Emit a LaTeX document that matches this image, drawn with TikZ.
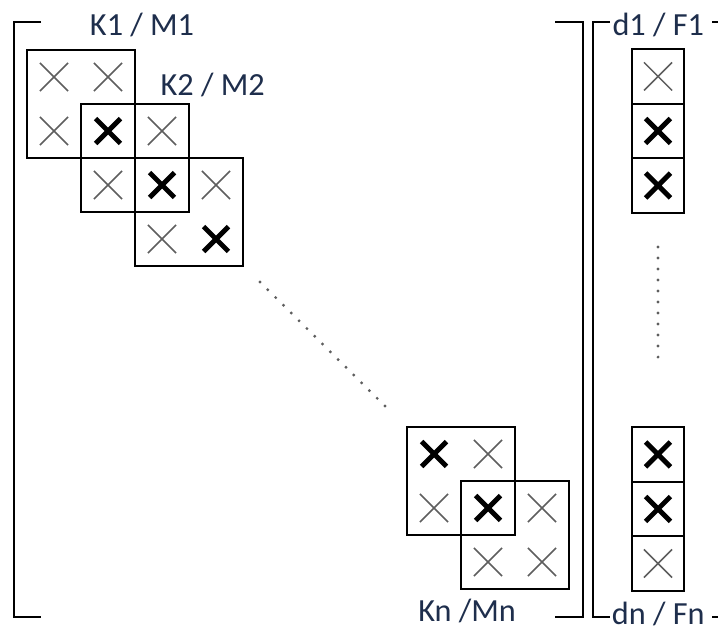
\documentclass[tikz,border=0pt]{standalone}
\usepackage{fontspec}
\setmainfont{Carlito}
\definecolor{labelblue}{HTML}{1E2E4C}
\definecolor{crossgray}{HTML}{5E5E5E}
\newcommand{\xthin}[2]{\draw[crossgray,line width=0.8pt,shift={(#1,#2)}] (-0.26,-0.26)--(0.26,0.26) (-0.26,0.26)--(0.26,-0.26);}
\newcommand{\xbold}[2]{\draw[black,line width=2.6pt,shift={(#1,#2)}] (-0.23,-0.23)--(0.23,0.23) (-0.23,0.23)--(0.23,-0.23);}
\tikzset{
  blk/.style={draw,line width=1pt},
  brk/.style={draw,line width=1.3pt},
  lbl/.style={text=labelblue,font=\fontsize{17}{20}\selectfont,inner sep=0pt},
  dots/.style={draw=crossgray,line width=1.7pt,line cap=round,dash pattern=on 0pt off 5.8pt}
}
\begin{document}
\begin{tikzpicture}[x=1cm,y=-1cm]
		\clip (0,0) rectangle (13.296,11.667);
		% brackets of the matrix
		\draw[brk] (0.76,0.41)--(0.26,0.41)--(0.26,11.43)--(0.76,11.43);
		\draw[brk] (10.28,0.41)--(10.80,0.41)--(10.80,11.43)--(10.28,11.43);
		% brackets of the vector
		\draw[brk] (11.30,0.41)--(10.98,0.41)--(10.98,11.43)--(11.30,11.43);
		\draw[brk] (13.19,0.41)--(13.60,0.41);
		\draw[brk] (13.19,11.43)--(13.60,11.43);
		% first blocks
		\draw[blk] (0.5,0.926) rectangle (2.5,2.926);
		\draw[blk] (1.5,1.926) rectangle (3.5,3.926);
		\draw[blk] (2.5,2.926) rectangle (4.5,4.926);
		\xthin{1}{1.426} \xthin{2}{1.426}
		\xthin{1}{2.426} \xbold{2}{2.426} \xthin{3}{2.426}
		\xthin{2}{3.426} \xbold{3}{3.426} \xthin{4}{3.426}
		\xthin{3}{4.426} \xbold{4}{4.426}
		\node[lbl] (k1) at (2.63,0.46) {K1 / M1};
		\node[lbl] (k2) at (3.94,1.57) {K2 / M2};
		% last blocks
		\draw[blk] (7.537,7.907) rectangle (9.537,9.907);
		\draw[blk] (8.537,8.907) rectangle (10.537,10.907);
		\xbold{8.037}{8.407} \xthin{9.037}{8.407}
		\xthin{8.037}{9.407} \xbold{9.037}{9.407} \xthin{10.037}{9.407}
		\xthin{9.037}{10.407} \xthin{10.037}{10.407}
		\node[lbl] (kn) at (8.65,11.31) {Kn /Mn};
		\draw[dots] (4.815,5.222)--(7.241,7.630);
		% vector entries
		\draw[blk] (11.704,0.91) rectangle (12.667,3.94);
		\draw[blk] (11.704,1.92)--(12.667,1.92) (11.704,2.93)--(12.667,2.93);
		\xthin{12.185}{1.415} \xbold{12.185}{2.425} \xbold{12.185}{3.435}
		\draw[blk] (11.704,7.91) rectangle (12.667,10.94);
		\draw[blk] (11.704,8.92)--(12.667,8.92) (11.704,9.93)--(12.667,9.93);
		\xbold{12.185}{8.415} \xbold{12.185}{9.425} \xthin{12.185}{10.435}
		\node[lbl] (d1) at (12.19,0.46) {d1 / F1};
		\node[lbl] (dn) at (12.19,11.37) {dn / Fn};
		\draw[dots] (12.185,4.574)--(12.185,6.778);
\end{tikzpicture}
\end{document}
